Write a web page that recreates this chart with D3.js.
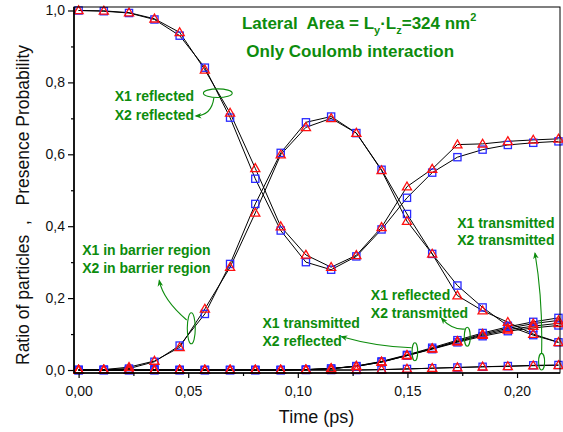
<!DOCTYPE html>
<html><head><meta charset="utf-8">
<script src="https://cdn.jsdelivr.net/npm/d3@7"></script>
<style>body{margin:0;background:#fff}text{font-family:Arial,"Liberation Sans",sans-serif}</style>
</head><body><svg id="c" width="563" height="432"></svg>
<script>
// ---- data ----
const times = [0, 0.0115, 0.0230, 0.0346, 0.0461, 0.0576, 0.0691, 0.0806, 0.0922, 0.1037,
               0.1152, 0.1267, 0.1382, 0.1498, 0.1613, 0.1728, 0.1843, 0.1958, 0.2074, 0.2189];
// square series (simulation A) and triangle series (simulation B)
const bothReflSq  = [1.0, 0.998, 0.993, 0.975, 0.930, 0.841, 0.702, 0.532, 0.388, 0.300, 0.279, 0.316, 0.391, 0.479, 0.549, 0.592, 0.613, 0.626, 0.632, 0.636];
const bothReflTri = [1.0, 0.999, 0.994, 0.977, 0.939, 0.835, 0.715, 0.561, 0.399, 0.320, 0.286, 0.319, 0.397, 0.510, 0.559, 0.627, 0.629, 0.636, 0.640, 0.643];
const barrierSq   = [0, 0.001, 0.004, 0.023, 0.068, 0.156, 0.295, 0.462, 0.604, 0.689, 0.705, 0.659, 0.557, 0.434, 0.323, 0.235, 0.174, 0.123, 0.097, 0.077];
const barrierTri  = [0, 0.001, 0.008, 0.025, 0.063, 0.170, 0.286, 0.437, 0.599, 0.675, 0.700, 0.659, 0.555, 0.414, 0.323, 0.207, 0.165, 0.133, 0.100, 0.077];
const bothTransSq  = [0, 0, 0, 0, 0, 0, 0, 0, 0, 0, 0, 0, 0.001, 0.003, 0.005, 0.007, 0.009, 0.011, 0.013, 0.014];
const bothTransTri = [0, 0, 0, 0, 0, 0, 0, 0, 0, 0, 0, 0, 0.001, 0.003, 0.005, 0.007, 0.009, 0.010, 0.012, 0.013];
const x1TransX2ReflSq  = [0, 0, 0, 0, 0, 0, 0, 0, 0, 0.001, 0.004, 0.011, 0.024, 0.042, 0.062, 0.083, 0.103, 0.120, 0.134, 0.145];
const x1TransX2ReflTri = [0, 0, 0, 0, 0, 0, 0, 0, 0, 0.001, 0.004, 0.011, 0.023, 0.041, 0.060, 0.080, 0.100, 0.116, 0.129, 0.138];
const x1ReflX2TransSq  = [0, 0, 0, 0, 0, 0, 0, 0, 0, 0.001, 0.004, 0.010, 0.022, 0.040, 0.058, 0.077, 0.094, 0.108, 0.117, 0.124];
const x1ReflX2TransTri = [0, 0, 0, 0, 0, 0, 0, 0, 0, 0.001, 0.004, 0.010, 0.022, 0.040, 0.059, 0.079, 0.097, 0.112, 0.122, 0.130];
const xTicks = [0, 0.05, 0.10, 0.15, 0.20];
const xTickLabels = ["0,00", "0,05", "0,10", "0,15", "0,20"];
const xMinor = [0.025, 0.075, 0.125, 0.175];
const yTicks = [0, 0.2, 0.4, 0.6, 0.8, 1.0];
const yTickLabels = ["0,0", "0,2", "0,4", "0,6", "0,8", "1,0"];
const yMinor = [0.1, 0.3, 0.5, 0.7, 0.9];

const sqSeries = [bothReflSq, barrierSq, bothTransSq, x1TransX2ReflSq, x1ReflX2TransSq];
const triSeries = [bothReflTri, barrierTri, bothTransTri, x1TransX2ReflTri, x1ReflX2TransTri];

// ---- layout ----
const svg = d3.select("#c");
const L = 74, R = 560, T = 7, B = 373;
const x = d3.scaleLinear().domain([-0.0021, 0.2196]).range([L, R]);
const y = d3.scaleLinear().domain([-0.0083, 1.0097]).range([B, T]);
const green = "#0d8c0d";

// lines
const line = d3.line().x((d, i) => x(times[i])).y(d => y(d));
const allSeries = sqSeries.concat(triSeries);
svg.append("g").selectAll("path").data(allSeries).join("path")
  .attr("d", line).attr("fill", "none").attr("stroke", "#000").attr("stroke-width", 1);

// squares
const sqG = svg.append("g");
sqSeries.forEach(s => {
  sqG.selectAll(null).data(s).join("rect")
    .attr("x", (d, i) => x(times[i]) - 3.6).attr("y", d => y(d) - 3.6)
    .attr("width", 7.2).attr("height", 7.2)
    .attr("fill", "none").attr("stroke", "#2a2aff").attr("stroke-width", 1.3);
});
// triangles
const triG = svg.append("g");
const tri = d3.symbol().type(d3.symbolTriangle).size(36);
triSeries.forEach(s => {
  triG.selectAll(null).data(s).join("path")
    .attr("d", tri)
    .attr("transform", (d, i) => `translate(${x(times[i])},${y(d) + 0.6})`)
    .attr("fill", "none").attr("stroke", "#ff1010").attr("stroke-width", 1.3);
});

// frame
svg.append("rect").attr("x", L).attr("y", T).attr("width", R - L).attr("height", B - T)
  .attr("fill", "none").attr("stroke", "#000").attr("stroke-width", 1);
svg.append("line").attr("x1", L).attr("x2", L).attr("y1", T).attr("y2", B).attr("stroke", "#000").attr("stroke-width", 1.6);
svg.append("line").attr("x1", L).attr("x2", R).attr("y1", B).attr("y2", B).attr("stroke", "#000").attr("stroke-width", 1.6);

// x axis
const xa = svg.append("g").attr("transform", `translate(0,${B})`);
xa.call(d3.axisBottom(x).tickValues(xTicks).tickSize(5).tickFormat((d, i) => xTickLabels[i]));
xa.append("g").call(d3.axisBottom(x).tickValues(xMinor).tickSize(3).tickFormat(""));
xa.selectAll(".domain").remove();
xa.selectAll("text").attr("font-size", 14).attr("font-family", "Arial, 'Liberation Sans', sans-serif").attr("fill", "#111").attr("dy", "1.05em");
xa.selectAll("line").attr("stroke-width", 1.2);

// y axis
const ya = svg.append("g").attr("transform", `translate(${L},0)`);
ya.call(d3.axisLeft(y).tickValues(yTicks).tickSize(6).tickFormat((d, i) => yTickLabels[i]));
ya.append("g").call(d3.axisLeft(y).tickValues(yMinor).tickSize(3).tickFormat(""));
ya.selectAll(".domain").remove();
ya.selectAll("text").attr("font-size", 14).attr("font-family", "Arial, 'Liberation Sans', sans-serif").attr("fill", "#111").attr("x", -9);
ya.selectAll("line").attr("stroke-width", 1.2);

// axis titles
svg.append("text").attr("x", 316.5).attr("y", 423).attr("text-anchor", "middle")
  .attr("font-size", 18).attr("fill", "#111").text("Time (ps)");
svg.append("text").attr("transform", "translate(28.5,365) rotate(-90)")
  .attr("font-size", 17.5).attr("fill", "#111").style("white-space", "pre")
  .text("Ratio of particles  ,   Presence Probability");

// ---- annotations (positions in data units) ----
const title = svg.append("text").attr("x", x(0.0745)).attr("y", y(0.9485))
  .attr("font-size", 17).attr("font-weight", "bold").attr("fill", green).style("white-space", "pre");
title.append("tspan").text("Lateral  Area = L");
title.append("tspan").attr("font-size", 11).attr("dy", 5).text("y");
title.append("tspan").attr("dy", -5).text("\u00b7L");
title.append("tspan").attr("font-size", 11).attr("dy", 5).text("z");
title.append("tspan").attr("dy", -5).text("=324 nm");
title.append("tspan").attr("font-size", 11).attr("dy", -8).text("2");
svg.append("text").attr("x", x(0.0765)).attr("y", y(0.8698))
  .attr("font-size", 17).attr("font-weight", "bold").attr("fill", green).text("Only Coulomb interaction");

const labels = [
  {t: 0.0165, v: 0.7482, s: "X1 reflected"},
  {t: 0.0165, v: 0.6954, s: "X2 reflected"},
  {t: 0.00164, v: 0.3199, s: "X1 in barrier region"},
  {t: 0.00164, v: 0.2707, s: "X2 in barrier region"},
  {t: 0.0839, v: 0.1160, s: "X1 transmitted"},
  {t: 0.0839, v: 0.0668, s: "X2 reflected"},
  {t: 0.1333, v: 0.1947, s: "X1 reflected"},
  {t: 0.1333, v: 0.1438, s: "X2 transmitted"},
  {t: 0.1727, v: 0.3942, s: "X1 transmitted"},
  {t: 0.1727, v: 0.3477, s: "X2 transmitted"}
];
svg.append("g").selectAll("text").data(labels).join("text")
  .attr("x", d => x(d.t)).attr("y", d => y(d.v))
  .attr("font-size", 14).attr("font-weight", "bold").attr("fill", green).text(d => d.s);

const ellipses = [
  {t: 0.0635, v: 0.770, rx: 14.4, ry: 4.3},
  {t: 0.0514, v: 0.116, rx: 4, ry: 15.5},
  {t: 0.1534, v: 0.0509, rx: 2.8, ry: 9},
  {t: 0.1773, v: 0.0926, rx: 3, ry: 9.5},
  {t: 0.2112, v: 0.0231, rx: 3, ry: 8.3}
];
svg.append("g").selectAll("ellipse").data(ellipses).join("ellipse")
  .attr("cx", d => x(d.t)).attr("cy", d => y(d.v)).attr("rx", d => d.rx).attr("ry", d => d.ry)
  .attr("fill", "none").attr("stroke", green).attr("stroke-width", 1.1);

svg.append("defs").append("marker").attr("id", "ah").attr("viewBox", "0 0 10 10")
  .attr("refX", 8).attr("refY", 5).attr("markerWidth", 7).attr("markerHeight", 7)
  .attr("markerUnits", "userSpaceOnUse").attr("orient", "auto")
  .append("path").attr("d", "M0,1 L10,5 L0,9 L3,5 Z").attr("fill", green);

const arrows = [
  [[0.0617, 0.757], [0.0607, 0.709], [0.0535, 0.7065]],
  [[0.0493, 0.139], [0.0386, 0.1947], [0.0368, 0.2484]],
  [[0.1519, 0.062], [0.136, 0.0648], [0.120, 0.0926]],
  [[0.1762, 0.114], [0.1703, 0.1113], [0.1656, 0.1438]],
  [[0.2112, 0.0465], [0.2118, 0.1947], [0.2082, 0.3246]]
];
svg.append("g").selectAll("path").data(arrows).join("path")
  .attr("d", a => {
    const p = d3.path();
    p.moveTo(x(a[0][0]), y(a[0][1]));
    p.quadraticCurveTo(x(a[1][0]), y(a[1][1]), x(a[2][0]), y(a[2][1]));
    return p.toString();
  })
  .attr("fill", "none").attr("stroke", green).attr("stroke-width", 1.1).attr("marker-end", "url(#ah)");
</script></body></html>
